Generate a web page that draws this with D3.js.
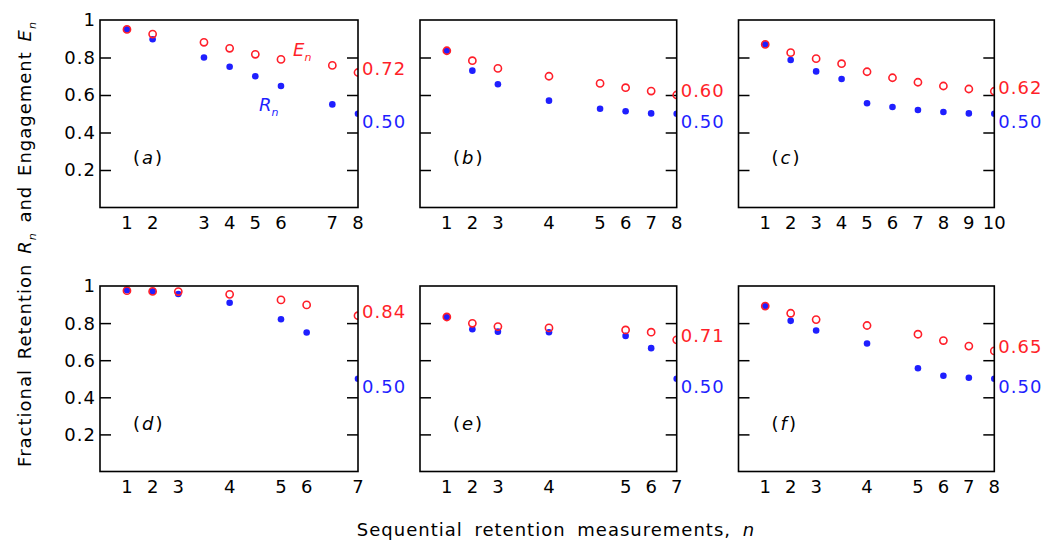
<!DOCTYPE html>
<html>
<head>
<meta charset="utf-8">
<script src="https://cdn.jsdelivr.net/npm/d3@7"></script>
<style>
  html, body { margin: 0; padding: 0; background: #fff; }
  svg { display: block; }
  text { font-family: "DejaVu Sans", "Liberation Sans", sans-serif; }
</style>
</head>
<body>
<svg id="chart" width="1043" height="542"></svg>
<script>
// ---- data ----
const panelNames = ["a", "b", "c", "d", "e", "f"];
// measurement times on the common 0..10 axis (tick labels are n = 1..N)
const timesA = [1, 2, 4, 5, 6, 7, 9, 10];
const timesB = [1, 2, 3, 5, 7, 8, 9, 10];
const timesC = [1, 2, 3, 4, 5, 6, 7, 8, 9, 10];
const timesD = [1, 2, 3, 5, 7, 8, 10];
const timesE = [1, 2, 3, 5, 8, 9, 10];
const timesF = [1, 2, 3, 5, 7, 8, 9, 10];
// Engagement E_n
const engA = [0.95, 0.925, 0.881, 0.849, 0.817, 0.79, 0.758, 0.72];
const engB = [0.836, 0.783, 0.742, 0.70, 0.662, 0.639, 0.621, 0.60];
const engC = [0.87, 0.826, 0.794, 0.767, 0.724, 0.692, 0.668, 0.648, 0.632, 0.62];
const engD = [0.975, 0.971, 0.97, 0.955, 0.925, 0.898, 0.84];
const engE = [0.833, 0.799, 0.781, 0.774, 0.763, 0.751, 0.71];
const engF = [0.892, 0.853, 0.819, 0.787, 0.74, 0.706, 0.676, 0.65];
// Retention R_n
const retA = [0.95, 0.897, 0.80, 0.751, 0.70, 0.648, 0.55, 0.50];
const retB = [0.836, 0.73, 0.657, 0.57, 0.527, 0.513, 0.502, 0.50];
const retC = [0.87, 0.787, 0.726, 0.685, 0.556, 0.536, 0.52, 0.509, 0.502, 0.50];
const retD = [0.977, 0.971, 0.957, 0.91, 0.821, 0.749, 0.50];
const retE = [0.833, 0.767, 0.754, 0.751, 0.731, 0.665, 0.50];
const retF = [0.892, 0.812, 0.76, 0.69, 0.557, 0.516, 0.505, 0.50];
const yTickValues = [0.2, 0.4, 0.6, 0.8, 1];
const yTickLabels = ["0.2", "0.4", "0.6", "0.8", "1"];

const panelTimes = [timesA, timesB, timesC, timesD, timesE, timesF];
const panelEng = [engA, engB, engC, engD, engE, engF];
const panelRet = [retA, retB, retC, retD, retE, retF];

// ---- layout ----
const colX = [[100, 358], [420, 676.7], [738.5, 994.3]];
const rowY = [[20, 207.5], [286, 471.5]];
const RED = "#ff1f2a", BLUE = "#1f1fff";
const FS = 18, LS = 1;

const svg = d3.select("#chart");
const defs = svg.append("defs");

panelNames.forEach((name, i) => {
  const col = i % 3, row = Math.floor(i / 3);
  const [x0, x1] = colX[col];
  const [y0, y1] = rowY[row];
  const x = d3.scaleLinear().domain([-0.05, 10]).range([x0, x1]);
  const y = d3.scaleLinear().domain([0, 1]).range([y1, y0]);
  const times = panelTimes[i], eng = panelEng[i], ret = panelRet[i];
  const g = svg.append("g");

  defs.append("clipPath").attr("id", "clip" + name)
    .append("rect").attr("x", x0).attr("y", y0).attr("width", x1 - x0).attr("height", y1 - y0);

  // ticks inside on both sides
  const tv = yTickValues.filter(v => v < 1);
  g.append("g").attr("transform", `translate(${x0},0)`)
    .call(d3.axisRight(y).tickValues(tv).tickSize(11).tickFormat(""))
    .call(s => s.select(".domain").remove())
    .selectAll("line").attr("stroke", "#000").attr("stroke-width", 1.5);
  g.append("g").attr("transform", `translate(${x1},0)`)
    .call(d3.axisLeft(y).tickValues(tv).tickSize(11).tickFormat(""))
    .call(s => s.select(".domain").remove())
    .selectAll("line").attr("stroke", "#000").attr("stroke-width", 1.5);

  // y tick labels on left column
  if (col === 0) {
    g.selectAll(".ylab").data(yTickValues).enter().append("text")
      .attr("x", x0 - 4).attr("y", d => y(d)).attr("dy", "0.36em")
      .attr("text-anchor", "end").attr("font-size", FS).attr("letter-spacing", LS)
      .text((d, k) => yTickLabels[k]);
  }

  // x tick labels (n)
  g.selectAll(".xlab").data(times).enter().append("text")
    .attr("x", d => x(d)).attr("y", y1 + 15).attr("dy", "0.36em")
    .attr("text-anchor", "middle").attr("font-size", FS)
    .text((d, k) => String(k + 1));

  // points
  const pts = g.append("g").attr("clip-path", `url(#clip${name})`);
  pts.selectAll(".r").data(ret).enter().append("circle")
    .attr("cx", (d, k) => x(times[k])).attr("cy", d => y(d)).attr("r", 3.3)
    .attr("fill", BLUE);
  pts.selectAll(".e").data(eng).enter().append("circle")
    .attr("cx", (d, k) => x(times[k])).attr("cy", d => y(d)).attr("r", 3.6)
    .attr("fill", "none").attr("stroke", RED).attr("stroke-width", 1.6);

  // frame
  g.append("rect").attr("x", x0).attr("y", y0).attr("width", x1 - x0).attr("height", y1 - y0)
    .attr("fill", "none").attr("stroke", "#000").attr("stroke-width", 1.6);

  // end values
  const eLast = eng[eng.length - 1], rLast = ret[ret.length - 1];
  g.append("text").attr("x", x1 + 4).attr("y", y(eLast) - 4).attr("dy", "0.36em")
    .attr("font-size", FS).attr("letter-spacing", LS).attr("fill", RED).text(d3.format(".2f")(eLast));
  g.append("text").attr("x", x1 + 4).attr("y", y(rLast) + 8).attr("dy", "0.36em")
    .attr("font-size", FS).attr("letter-spacing", LS).attr("fill", BLUE).text(d3.format(".2f")(rLast));

  // panel letter
  const pl = g.append("text").attr("x", x0 + 33).attr("y", y0 + 138).attr("dy", "0.36em")
    .attr("font-size", FS).attr("letter-spacing", 2).attr("fill", "#000");
  pl.append("tspan").text("(");
  pl.append("tspan").attr("font-style", "italic").text(name);
  pl.append("tspan").text(")");

  if (i === 0) {
    const t1 = g.append("text").attr("x", 293).attr("y", 50).attr("dy", "0.36em")
      .attr("font-size", FS).attr("fill", RED).attr("font-style", "italic");
    t1.append("tspan").text("E");
    t1.append("tspan").attr("font-size", 11).attr("dy", 5).text("n");
    const t2 = g.append("text").attr("x", 259).attr("y", 105).attr("dy", "0.36em")
      .attr("font-size", FS).attr("fill", BLUE).attr("font-style", "italic");
    t2.append("tspan").text("R");
    t2.append("tspan").attr("font-size", 11).attr("dy", 5).text("n");
  }
});

// axis titles
const yl = svg.append("text")
  .attr("transform", "translate(31,244) rotate(-90)")
  .attr("text-anchor", "middle").attr("font-size", FS)
  .attr("letter-spacing", 1).attr("word-spacing", 3);
yl.append("tspan").text("Fractional Retention ");
yl.append("tspan").attr("font-style", "italic").text("R");
yl.append("tspan").attr("font-size", 11).attr("dy", 5).attr("font-style", "italic").text("n");
yl.append("tspan").attr("dy", -5).text(" and Engagement ");
yl.append("tspan").attr("font-style", "italic").text("E");
yl.append("tspan").attr("font-size", 11).attr("dy", 5).attr("font-style", "italic").text("n");

const xl = svg.append("text").attr("x", 556).attr("y", 530).attr("dy", "0.36em")
  .attr("text-anchor", "middle").attr("font-size", FS)
  .attr("letter-spacing", LS).attr("word-spacing", 5);
xl.append("tspan").text("Sequential retention measurements, ");
xl.append("tspan").attr("font-style", "italic").text("n");
</script>
</body>
</html>
